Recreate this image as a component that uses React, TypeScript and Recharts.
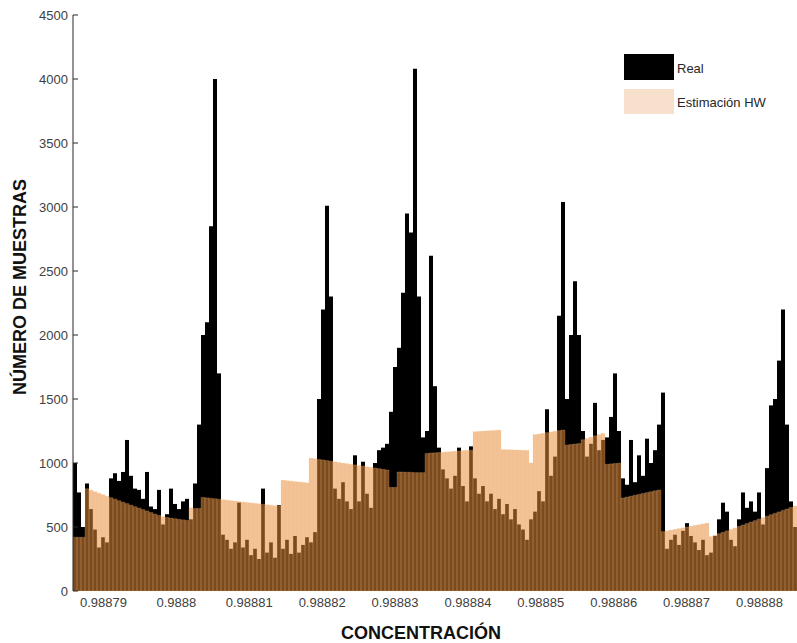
import React from 'react';
import { BarChart, Bar, XAxis, YAxis } from 'recharts';

// Histogram bins (181 equal bins across the visible concentration range)
const REAL = [
  1000, 770, 500, 840, 640, 480, 340, 420, 380, 880,
  920, 860, 930, 1180, 900, 800, 790, 720, 930, 660,
  640, 790, 520, 600, 800, 680, 640, 700, 720, 560,
  840, 1300, 2000, 2100, 2850, 4000, 1700, 440, 400, 330,
  380, 690, 340, 400, 280, 330, 250, 800, 300, 380,
  260, 670, 330, 400, 290, 430, 300, 360, 420, 380,
  460, 1500, 2200, 3010, 2300, 800, 720, 850, 700, 640,
  1060, 700, 1010, 760, 650, 1000, 1100, 1120, 1150, 1400,
  1750, 1900, 2330, 2950, 2800, 4080, 2300, 1200, 1250, 2620,
  1600, 1120, 950, 880, 800, 900, 1120, 820, 700, 1130,
  880, 760, 820, 700, 760, 640, 720, 600, 680, 560,
  640, 520, 480, 400, 560, 620, 780, 700, 1420, 900,
  1050, 2150, 3040, 1500, 2000, 2420, 2000, 1250, 1050, 1150,
  1470, 1100, 1180, 1200, 1360, 1700, 1250, 880, 830, 1180,
  850, 1060, 900, 1190, 1000, 1100, 1300, 1550, 330, 400,
  440, 360, 470, 530, 430, 380, 320, 400, 280, 300,
  430, 560, 690, 620, 400, 350, 560, 770, 650, 700,
  620, 770, 520, 960, 1450, 1500, 1800, 2200, 1300, 700,
  500,
];

const HW = [
  420, 420, 420,
  799, 788, 776, 764, 753, 741, 729, 718, 706, 694, 683, 671, 659, 648, 636, 625, 613, 601, 590,
  580, 575, 570, 565, 560, 556, 552,
  650, 645, 645,
  731, 728, 724, 721, 717, 713, 710, 706, 703, 699, 695, 692, 688, 685, 681, 677, 674, 670, 666, 663,
  866, 862, 858, 855, 852, 849, 845,
  1038, 1033, 1028, 1024, 1019, 1014, 1009, 1004, 999, 995, 990, 985, 980, 976, 971, 966, 961, 956, 951, 946,
  810, 810,
  930, 930, 928, 928, 925, 925, 925,
  1075, 1078, 1080,
  1082, 1084, 1087, 1089, 1092, 1094, 1097, 1099, 1100,
  1245, 1247, 1249, 1251, 1253, 1255, 1257,
  1105, 1104, 1103, 1102, 1101, 1100, 1099,
  1000,
  1222, 1227, 1232, 1237, 1243, 1248, 1253, 1258,
  1140, 1145, 1148, 1152,
  1182, 1192, 1202, 1212, 1222, 1232,
  990, 993, 996, 999,
  727, 734, 741, 748, 755, 762, 769, 776, 783, 789,
  464, 470, 476, 482, 488, 494, 500, 506, 512, 518, 524, 530,
  425, 436, 448, 459, 470, 482, 493, 505, 516, 527, 539, 550, 562, 573, 584, 596, 607, 618, 630, 641, 653, 664,
];

const X_TICKS = [0.98879, 0.9888, 0.98881, 0.98882, 0.98883, 0.98884, 0.98885, 0.98886, 0.98887, 0.98888];
const Y_TICKS = [0, 500, 1000, 1500, 2000, 2500, 3000, 3500, 4000, 4500];
const X_MIN = 0.98878582;
const X_MAX = 0.98888515;

const SERIES_NAMES = ['Real', 'Estimación HW'];
const X_TITLE = 'CONCENTRACIÓN';
const Y_TITLE = 'NÚMERO DE MUESTRAS';

const data = REAL.map((r, i) => ({
  bin: i,
  c: X_MIN + ((i + 0.5) * (X_MAX - X_MIN)) / REAL.length,
  real: r,
  hw: HW[i],
}));

const FONT = '"Liberation Sans", Arial, sans-serif';
const fmt = (v: number) => String(parseFloat(Number(v).toFixed(5)));

export default function App() {
  return (
    <div style={{ position: 'absolute', left: 0, top: 0, width: 797, height: 643, background: '#fff', fontFamily: FONT }}>
      <BarChart
        width={797}
        height={643}
        data={data}
        margin={{ top: 15, right: 0, bottom: 22, left: 0 }}
        barCategoryGap={0}
        barGap={0}
      >
        <XAxis
          xAxisId="ticks"
          dataKey="c"
          type="number"
          domain={[X_MIN, X_MAX]}
          allowDataOverflow
          ticks={X_TICKS}
          interval={0}
          tickFormatter={fmt}
          axisLine={false}
          tickLine={false}
          tickSize={0}
          tickMargin={7}
          height={30}
          tick={{ fontSize: 13, fill: '#404040', fontFamily: FONT }}
        />
        <XAxis xAxisId="real" dataKey="bin" type="category" hide height={0} />
        <XAxis xAxisId="hw" dataKey="bin" type="category" hide height={0} />
        <XAxis
          xAxisId="top"
          orientation="top"
          dataKey="c"
          type="number"
          domain={[X_MIN, X_MAX]}
          allowDataOverflow
          ticks={X_TICKS}
          interval={0}
          tickFormatter={() => ''}
          mirror
          tickSize={5}
          height={0}
          axisLine={{ stroke: '#262626' }}
          tickLine={{ stroke: '#262626' }}
        />
        <YAxis
          domain={[0, 4500]}
          ticks={Y_TICKS}
          interval={0}
          width={73}
          tickSize={-5}
          tickMargin={10}
          axisLine={{ stroke: '#262626' }}
          tickLine={{ stroke: '#262626' }}
          tick={{ fontSize: 13, fill: '#404040', fontFamily: FONT }}
        />
        <Bar xAxisId="real" dataKey="real" name={SERIES_NAMES[0]} fill="#000000" isAnimationActive={false} />
        <Bar
          xAxisId="hw"
          dataKey="hw"
          name={SERIES_NAMES[1]}
          fill="#E88C39"
          fillOpacity={0.53}
          stroke="#F4C08C"
          strokeOpacity={0.35}
          strokeWidth={0.6}
          isAnimationActive={false}
        />
      </BarChart>

      <div
        style={{
          position: 'absolute',
          left: 20,
          top: 287,
          transform: 'translate(-50%, -50%) rotate(-90deg)',
          whiteSpace: 'nowrap',
          fontWeight: 'bold',
          fontSize: 18,
          color: '#111',
          lineHeight: 1,
        }}
      >
        {Y_TITLE}
      </div>
      <div
        style={{
          position: 'absolute',
          left: 421,
          top: 633,
          transform: 'translate(-50%, -50%)',
          whiteSpace: 'nowrap',
          fontWeight: 'bold',
          fontSize: 18,
          color: '#111',
          lineHeight: 1,
        }}
      >
        {X_TITLE}
      </div>

      <div style={{ position: 'absolute', left: 624, top: 54, width: 50, height: 26, background: '#000' }} />
      <div style={{ position: 'absolute', left: 677, top: 68, transform: 'translateY(-50%)', fontSize: 13, color: '#262626', lineHeight: 1 }}>
        {SERIES_NAMES[0]}
      </div>
      <div style={{ position: 'absolute', left: 624, top: 89, width: 50, height: 25, background: '#F7E1CC' }} />
      <div style={{ position: 'absolute', left: 677, top: 102, transform: 'translateY(-50%)', fontSize: 13, color: '#262626', lineHeight: 1 }}>
        {SERIES_NAMES[1]}
      </div>
    </div>
  );
}
